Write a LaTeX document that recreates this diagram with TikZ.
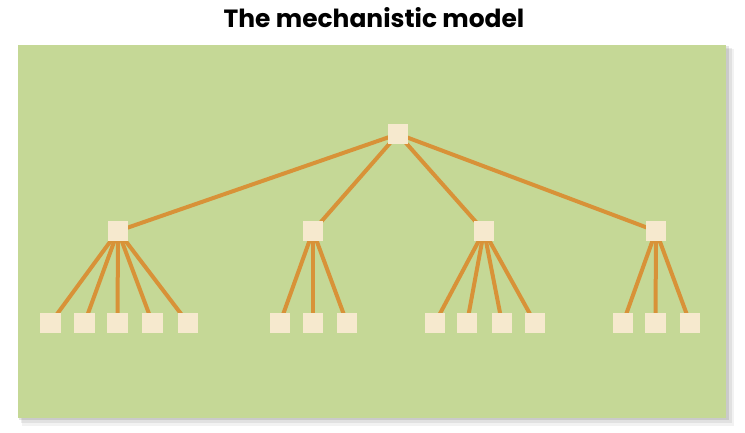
\documentclass[tikz,border=0pt]{standalone}
\usepackage{fontspec}
\setmainfont{Poppins}
\usetikzlibrary{positioning, backgrounds}

\definecolor{panelgreen}{RGB}{197,216,150}
\definecolor{linkorange}{RGB}{216,146,56}
\definecolor{boxcream}{RGB}{246,233,206}

\tikzset{
  unit/.style={fill=boxcream, minimum size=15.5pt, inner sep=0pt},
  link/.style={draw=linkorange, line width=3pt},
}

\begin{document}
\begin{tikzpicture}[x=0.75pt, y=-0.75pt]
\useasboundingbox (0,0) rectangle (745,432);

\node[font=\fontsize{18.7}{22}\selectfont\bfseries] (title) at (374,18) {The mechanistic model};

% top and middle level
\node[unit] (top) at (398,134) {};
\node[unit] (a) at (118,231) {};
\node[unit] (b) at (313,231) {};
\node[unit] (c) at (484,231) {};
\node[unit] (d) at (656,231) {};

% bottom level
\node[unit] (a1) at (50.5,323) {};
\node[unit] (a2) at (84.5,323) {};
\node[unit] (a3) at (117.5,323) {};
\node[unit] (a4) at (152.5,323) {};
\node[unit] (a5) at (188,323) {};

\node[unit] (b1) at (280,323) {};
\node[unit] (b2) at (313,323) {};
\node[unit] (b3) at (347,323) {};

\node[unit] (c1) at (435,323) {};
\node[unit] (c2) at (467,323) {};
\node[unit] (c3) at (502,323) {};
\node[unit] (c4) at (535,323) {};

\node[unit] (d1) at (623,323) {};
\node[unit] (d2) at (655.5,323) {};
\node[unit] (d3) at (690,323) {};

\begin{pgfonlayer}{background}
% panel with shadow
\fill[black, opacity=0.05] (22,49) rectangle (734,426);
\fill[black, opacity=0.07] (21,48) rectangle (732,423);
\fill[black, opacity=0.10] (19,46) rectangle (729,420);
\fill[panelgreen] (18,45) rectangle (726,418);

\foreach \n in {a,b,c,d}
  \draw[link] (top.center) -- (\n.center);
\foreach \n in {1,...,5}
  \draw[link] (a.center) -- (a\n.center);
\foreach \n in {1,...,3}
  \draw[link] (b.center) -- (b\n.center);
\foreach \n in {1,...,4}
  \draw[link] (c.center) -- (c\n.center);
\foreach \n in {1,...,3}
  \draw[link] (d.center) -- (d\n.center);
\end{pgfonlayer}

\end{tikzpicture}
\end{document}
